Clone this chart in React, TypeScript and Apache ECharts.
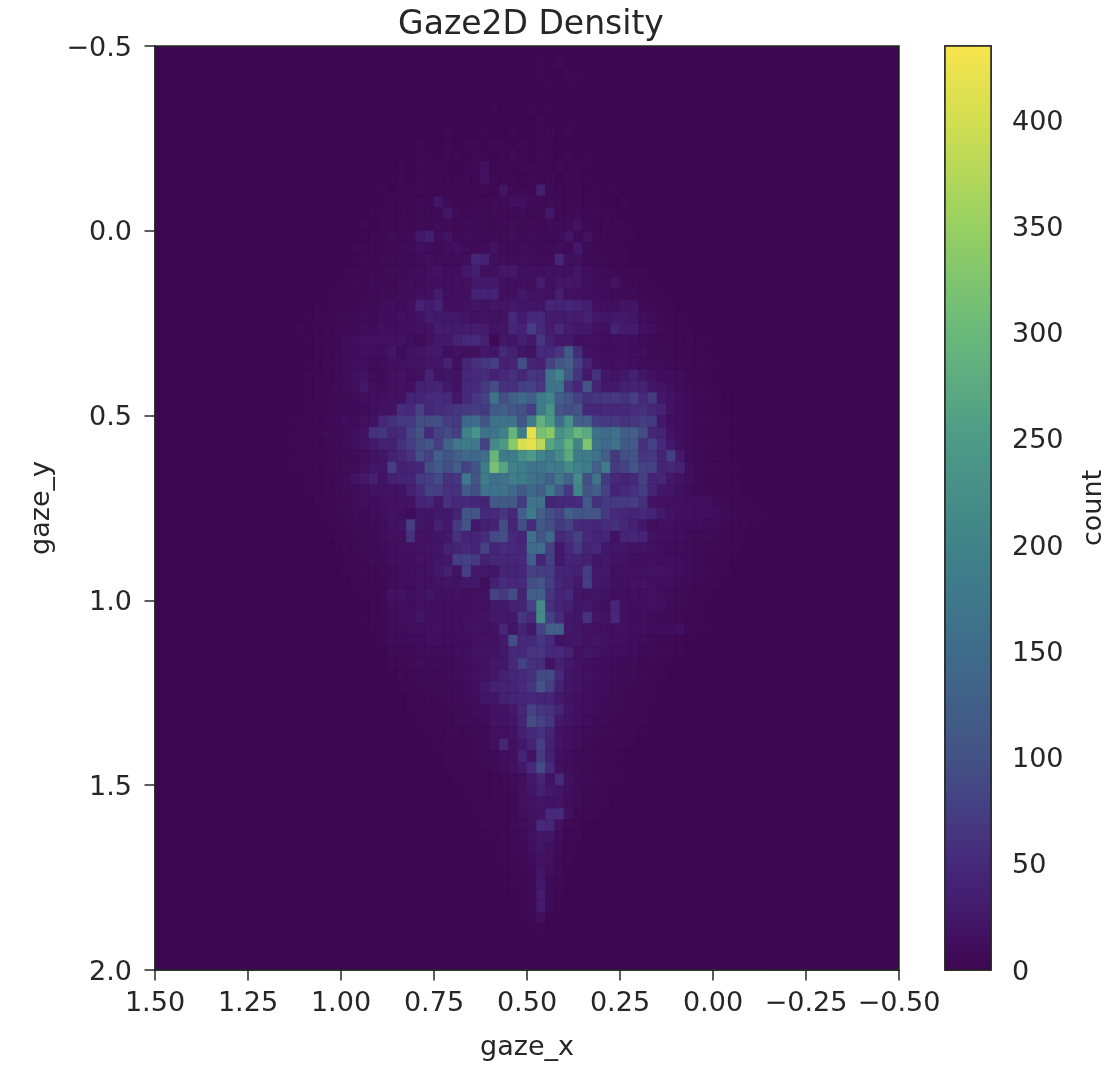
import * as echarts from 'echarts';
import React, { useEffect, useRef } from 'react';

const FONT = '"DejaVu Sans"';
const TEXT = '#262626';

const xBinWidth = 0.025;
const yBinHeight = 0.03125;
const countMax = 435;

// count value -> colour, picked from the picture's colour bar
const colorValues = [0, 25, 50, 75, 100, 150, 200, 250, 300, 350, 400, 435];
const colorHexes = ['#3e0751', '#43186a', '#46297a', '#453e82', '#435285', '#3e6c8b', '#408389', '#4d9b87', '#69b97b', '#97d062', '#d2de50', '#f8e44d'];

const colorbarTicks = [0, 50, 100, 150, 200, 250, 300, 350, 400];

// [row, first column, counts], rows from the top, columns from the left, empty bins left out
const countRows: [number, number, number[]][] = [
  [1, 41, [4, 0, 5]],
  [2, 41, [3, 0, 0, 3, 4]],
  [3, 42, [4, 0, 3]],
  [5, 36, [3, 0, 0, 0, 4, 0, 3]],
  [6, 35, [2, 0, 3, 0, 0, 0, 4, 0, 0, 3]],
  [7, 31, [3, 0, 0, 0, 3, 0, 0, 4, 0, 0, 3, 5, 0, 4]],
  [8, 28, [3, 0, 0, 4, 0, 3, 3, 0, 4, 3, 0, 5, 0, 3, 3, 0, 2]],
  [9, 26, [2, 0, 4, 3, 0, 5, 3, 0, 6, 3, 0, 4, 8, 3, 0, 6, 3, 0, 4, 0, 3]],
  [10, 26, [3, 0, 5, 3, 4, 2, 0, 3, 6, 15, 3, 4, 0, 5, 6, 3, 2, 6, 0, 3, 2]],
  [11, 25, [2, 3, 0, 5, 4, 3, 6, 3, 5, 4, 15, 3, 6, 4, 2, 6, 3, 5, 0, 4, 3, 2]],
  [12, 24, [3, 0, 4, 3, 6, 4, 3, 5, 6, 4, 5, 6, 3, 20, 6, 5, 4, 35, 6, 3, 4, 5, 2, 4, 0, 3]],
  [13, 24, [2, 4, 3, 6, 5, 4, 20, 7, 5, 6, 6, 5, 8, 7, 15, 15, 8, 6, 7, 5, 5, 6, 3, 4, 2, 0, 3]],
  [14, 23, [3, 4, 5, 6, 4, 7, 5, 8, 20, 7, 6, 8, 5, 7, 8, 6, 9, 5, 7, 25, 6, 5, 8, 4, 5, 3, 2]],
  [15, 22, [3, 2, 6, 5, 8, 6, 7, 6, 9, 8, 6, 9, 8, 7, 6, 8, 10, 7, 8, 6, 9, 8, 7, 18, 6, 4, 5, 3, 4, 2]],
  [16, 22, [2, 5, 4, 7, 6, 8, 25, 35, 9, 18, 7, 9, 8, 8, 9, 7, 10, 8, 9, 7, 8, 9, 20, 8, 15, 6, 5, 4, 3, 2]],
  [17, 21, [3, 4, 6, 5, 8, 7, 9, 15, 9, 8, 10, 15, 9, 8, 9, 18, 9, 8, 10, 9, 8, 9, 10, 8, 25, 7, 6, 4, 5, 3, 2]],
  [18, 21, [2, 5, 4, 7, 6, 9, 8, 10, 15, 9, 10, 9, 11, 45, 40, 12, 10, 9, 12, 10, 9, 11, 45, 12, 15, 8, 7, 5, 4, 3]],
  [19, 20, [3, 4, 3, 6, 5, 7, 8, 9, 10, 12, 18, 11, 12, 25, 35, 12, 15, 25, 25, 12, 15, 12, 15, 15, 12, 20, 11, 9, 8, 6, 5, 4, 3]],
  [20, 19, [2, 3, 5, 4, 7, 8, 6, 10, 12, 9, 14, 12, 11, 13, 15, 25, 25, 25, 14, 15, 13, 12, 30, 14, 20, 20, 20, 12, 10, 9, 18, 7, 6, 4, 3]],
  [21, 18, [2, 4, 3, 6, 5, 8, 9, 7, 10, 12, 15, 13, 30, 12, 14, 15, 40, 40, 40, 14, 15, 25, 18, 18, 15, 35, 14, 15, 13, 12, 10, 8, 9, 7, 5, 4, 3]],
  [22, 17, [3, 2, 4, 6, 5, 8, 7, 10, 12, 9, 14, 40, 30, 40, 14, 12, 15, 20, 16, 20, 20, 25, 20, 20, 20, 45, 40, 45, 40, 35, 14, 15, 12, 20, 20, 8, 6, 4, 3]],
  [23, 16, [2, 3, 4, 5, 7, 6, 9, 8, 12, 10, 14, 12, 18, 30, 25, 25, 25, 20, 15, 18, 16, 18, 50, 30, 50, 50, 30, 30, 30, 30, 40, 25, 20, 25, 25, 20, 12, 9, 6, 4, 3, 2]],
  [24, 15, [3, 2, 4, 5, 6, 8, 7, 10, 9, 13, 12, 15, 14, 16, 18, 30, 30, 30, 30, 30, 30, 18, 20, 45, 40, 75, 50, 30, 50, 30, 25, 25, 18, 15, 40, 30, 30, 15, 12, 8, 6, 4, 3, 2]],
  [25, 16, [2, 3, 4, 5, 10, 12, 14, 15, 15, 15, 18, 12, 9, 18, 25, 25, 40, 50, 50, 40, 6, 25, 22, 38, 25, 65, 38, 25, 25, 15, 15, 15, 12, 12, 15, 12, 9, 7, 6, 6, 5, 5, 3, 2]],
  [26, 16, [2, 3, 5, 6, 9, 12, 15, 12, 12, 20, 9, 18, 18, 25, 25, 12, 18, 15, 15, 25, 22, 50, 38, 22, 18, 50, 50, 65, 115, 55, 18, 13, 12, 12, 13, 12, 12, 9, 7, 6, 6, 5, 3, 2]],
  [27, 16, [2, 4, 5, 5, 9, 12, 12, 9, 9, 15, 15, 18, 18, 22, 22, 38, 15, 42, 60, 65, 75, 38, 42, 95, 42, 38, 80, 110, 125, 75, 42, 18, 15, 15, 15, 12, 11, 9, 9, 7, 6, 5, 5, 3, 2]],
  [28, 16, [3, 3, 5, 6, 9, 15, 18, 9, 9, 15, 18, 12, 15, 42, 18, 22, 18, 46, 50, 55, 38, 50, 60, 46, 65, 60, 165, 200, 115, 65, 25, 60, 25, 18, 25, 38, 22, 15, 9, 11, 9, 6, 5, 3, 2]],
  [29, 16, [3, 5, 4, 7, 9, 12, 25, 12, 9, 15, 18, 15, 38, 38, 42, 25, 18, 50, 50, 70, 95, 60, 60, 75, 80, 65, 165, 165, 65, 46, 105, 42, 25, 25, 38, 42, 38, 22, 18, 12, 9, 7, 5, 3, 2]],
  [30, 16, [3, 5, 6, 7, 9, 9, 12, 12, 15, 18, 18, 42, 42, 50, 55, 50, 25, 50, 65, 80, 165, 95, 125, 145, 125, 185, 205, 125, 105, 80, 60, 65, 65, 70, 60, 75, 50, 70, 25, 18, 12, 9, 6, 5, 3, 2]],
  [31, 15, [2, 4, 5, 6, 7, 9, 9, 9, 12, 18, 18, 55, 50, 80, 46, 55, 60, 65, 70, 75, 70, 115, 125, 105, 100, 75, 185, 235, 105, 95, 105, 50, 46, 50, 46, 50, 55, 60, 46, 42, 18, 12, 9, 6, 5, 3, 2]],
  [32, 14, [2, 3, 4, 5, 6, 8, 12, 9, 15, 18, 46, 60, 70, 70, 95, 95, 95, 75, 70, 145, 155, 105, 165, 165, 165, 105, 185, 285, 250, 155, 225, 125, 125, 75, 70, 70, 60, 65, 75, 70, 25, 15, 12, 9, 6, 5, 4, 3, 2]],
  [33, 14, [2, 4, 5, 6, 7, 8, 9, 12, 18, 60, 65, 46, 50, 80, 105, 50, 80, 90, 75, 195, 235, 165, 165, 195, 295, 185, 420, 315, 335, 225, 255, 295, 275, 165, 155, 160, 125, 125, 95, 46, 42, 18, 12, 9, 6, 5, 4, 3, 2]],
  [34, 14, [2, 3, 4, 5, 6, 8, 9, 12, 18, 25, 38, 38, 60, 75, 95, 105, 75, 135, 175, 185, 175, 80, 215, 245, 335, 405, 420, 380, 265, 235, 285, 205, 325, 165, 145, 165, 115, 115, 60, 80, 50, 25, 15, 9, 6, 5, 4, 3, 2]],
  [35, 14, [2, 3, 4, 5, 6, 7, 9, 9, 12, 18, 22, 38, 46, 60, 95, 80, 125, 105, 125, 145, 145, 155, 295, 185, 185, 225, 245, 205, 175, 215, 275, 185, 185, 165, 125, 70, 95, 105, 65, 70, 42, 75, 25, 9, 7, 6, 5, 3, 2]],
  [36, 14, [2, 3, 4, 5, 5, 7, 9, 9, 15, 22, 22, 75, 38, 42, 46, 95, 115, 95, 125, 80, 105, 185, 315, 265, 195, 185, 165, 165, 185, 175, 215, 195, 185, 125, 185, 70, 80, 105, 80, 80, 42, 46, 38, 12, 7, 6, 5, 4, 3]],
  [37, 15, [2, 3, 4, 5, 6, 9, 18, 25, 38, 18, 38, 42, 42, 70, 75, 90, 60, 65, 175, 105, 185, 155, 165, 190, 185, 165, 155, 125, 175, 135, 215, 95, 165, 70, 50, 42, 50, 80, 42, 46, 25, 18, 12, 7, 6, 5, 5, 3, 2]],
  [38, 15, [2, 3, 4, 5, 6, 9, 9, 12, 18, 18, 18, 18, 38, 50, 80, 75, 60, 60, 115, 95, 165, 160, 165, 145, 115, 145, 125, 175, 115, 70, 205, 105, 125, 80, 42, 50, 60, 75, 42, 25, 22, 15, 9, 7, 6, 5, 4, 3]],
  [39, 16, [2, 3, 4, 5, 8, 10, 12, 10, 13, 15, 18, 18, 42, 46, 25, 60, 50, 50, 46, 42, 115, 115, 115, 70, 165, 165, 42, 46, 50, 50, 115, 60, 70, 70, 70, 75, 60, 18, 15, 15, 15, 12, 12, 12, 8, 6, 5, 3, 2]],
  [40, 17, [2, 3, 4, 7, 9, 8, 10, 12, 18, 15, 9, 22, 22, 25, 25, 42, 105, 105, 50, 50, 65, 46, 125, 185, 125, 95, 80, 125, 105, 105, 105, 70, 50, 46, 42, 50, 42, 25, 18, 15, 15, 12, 12, 11, 7, 6, 4, 3, 2]],
  [41, 18, [2, 3, 6, 7, 8, 9, 11, 18, 18, 75, 22, 18, 38, 25, 70, 105, 25, 38, 42, 95, 42, 95, 50, 115, 95, 70, 80, 50, 50, 46, 55, 60, 46, 38, 25, 12, 15, 15, 12, 11, 11, 9, 9, 6, 5, 3, 2]],
  [42, 18, [2, 3, 5, 6, 7, 8, 10, 15, 15, 60, 18, 18, 22, 25, 60, 42, 42, 55, 90, 95, 50, 42, 160, 105, 145, 50, 60, 80, 50, 42, 42, 18, 42, 46, 42, 18, 15, 12, 12, 9, 7, 7, 6, 5, 3, 2]],
  [43, 19, [2, 5, 6, 7, 8, 9, 12, 15, 15, 18, 18, 22, 38, 42, 50, 42, 80, 42, 55, 50, 46, 150, 155, 80, 25, 50, 70, 42, 50, 25, 22, 22, 18, 18, 15, 12, 11, 9, 9, 7, 6, 5, 4, 3]],
  [44, 20, [3, 5, 6, 7, 8, 12, 15, 15, 18, 18, 22, 25, 75, 80, 70, 38, 46, 46, 46, 50, 125, 42, 80, 25, 42, 42, 38, 22, 25, 18, 18, 12, 12, 15, 12, 12, 11, 9, 7, 6, 5, 3, 2]],
  [45, 20, [3, 4, 5, 6, 7, 9, 12, 15, 15, 18, 25, 38, 18, 75, 25, 25, 22, 42, 42, 46, 80, 75, 75, 42, 42, 38, 75, 25, 25, 15, 15, 15, 15, 18, 18, 15, 12, 9, 7, 6, 4, 3]],
  [46, 21, [3, 4, 5, 6, 9, 12, 12, 15, 15, 18, 22, 18, 25, 25, 12, 38, 55, 46, 50, 95, 105, 75, 46, 38, 25, 75, 25, 22, 15, 15, 18, 18, 15, 12, 12, 9, 8, 6, 5, 3]],
  [47, 21, [2, 3, 4, 6, 18, 18, 12, 15, 22, 15, 15, 18, 15, 15, 15, 80, 70, 95, 42, 125, 125, 65, 42, 50, 22, 18, 22, 18, 12, 12, 15, 12, 15, 12, 9, 7, 6, 5, 3]],
  [48, 22, [2, 3, 5, 12, 12, 12, 15, 15, 12, 12, 15, 15, 15, 15, 25, 25, 38, 42, 80, 215, 60, 42, 38, 22, 25, 18, 15, 46, 15, 12, 15, 15, 15, 9, 7, 6, 4, 2]],
  [49, 22, [2, 3, 4, 9, 12, 12, 22, 12, 15, 12, 15, 15, 15, 18, 25, 25, 25, 65, 50, 215, 80, 50, 25, 22, 60, 22, 18, 50, 15, 12, 12, 9, 8, 7, 5, 4, 3]],
  [50, 23, [3, 4, 9, 9, 12, 12, 12, 15, 12, 15, 15, 18, 15, 18, 46, 22, 42, 25, 80, 125, 125, 25, 22, 18, 15, 15, 15, 15, 12, 12, 11, 11, 11, 16, 6, 4, 2]],
  [51, 24, [3, 9, 9, 9, 9, 12, 12, 12, 12, 12, 15, 18, 18, 25, 95, 50, 50, 65, 50, 18, 22, 25, 15, 22, 15, 15, 12, 11, 9, 7, 6, 5, 3, 2]],
  [52, 25, [7, 8, 8, 9, 9, 9, 9, 12, 12, 18, 18, 18, 25, 50, 50, 65, 65, 50, 50, 38, 15, 22, 18, 15, 12, 12, 11, 8, 7, 6, 5, 3]],
  [53, 25, [5, 6, 8, 9, 9, 9, 9, 9, 12, 15, 18, 25, 25, 50, 80, 60, 55, 18, 38, 25, 18, 15, 12, 11, 9, 8, 7, 6, 5, 3, 2]],
  [54, 26, [5, 6, 7, 8, 8, 9, 11, 12, 13, 18, 25, 38, 46, 50, 60, 90, 90, 50, 22, 18, 15, 12, 11, 9, 8, 7, 5, 4, 3]],
  [55, 26, [4, 5, 6, 7, 7, 8, 9, 11, 12, 25, 38, 42, 42, 50, 65, 105, 75, 38, 22, 17, 15, 11, 10, 8, 7, 6, 5, 3, 2]],
  [56, 27, [3, 4, 5, 6, 8, 8, 10, 11, 22, 22, 38, 42, 46, 50, 42, 42, 25, 18, 15, 12, 11, 9, 7, 6, 5, 4, 3]],
  [57, 27, [3, 4, 5, 5, 6, 7, 8, 10, 11, 18, 18, 25, 46, 80, 65, 60, 42, 22, 15, 12, 10, 8, 7, 5, 4, 3, 2]],
  [58, 28, [3, 4, 5, 5, 7, 7, 8, 9, 18, 18, 22, 42, 95, 80, 65, 25, 18, 13, 11, 8, 7, 6, 5, 4, 3]],
  [59, 29, [3, 4, 5, 6, 6, 7, 8, 15, 15, 18, 38, 50, 60, 42, 18, 15, 11, 9, 7, 6, 5, 4, 3, 2]],
  [60, 30, [3, 4, 5, 6, 6, 7, 15, 46, 15, 25, 42, 75, 38, 18, 13, 10, 7, 6, 5, 4, 3, 2]],
  [61, 31, [3, 4, 4, 5, 7, 8, 12, 15, 42, 18, 70, 38, 15, 11, 8, 7, 5, 4, 3, 2]],
  [62, 31, [3, 3, 4, 5, 5, 7, 10, 15, 25, 50, 90, 50, 15, 10, 7, 6, 5, 3, 3, 2]],
  [63, 32, [3, 3, 4, 4, 5, 6, 8, 12, 25, 42, 18, 50, 15, 8, 7, 5, 4, 3, 2]],
  [64, 32, [2, 3, 3, 4, 5, 6, 7, 15, 22, 38, 25, 22, 12, 7, 6, 4, 3, 2]],
  [65, 33, [2, 3, 3, 4, 5, 6, 15, 18, 22, 18, 18, 11, 7, 5, 3, 3]],
  [66, 34, [2, 3, 3, 4, 5, 12, 15, 18, 50, 50, 15, 6, 4, 3, 2]],
  [67, 34, [2, 3, 3, 4, 8, 11, 15, 50, 46, 13, 5, 3, 2]],
  [68, 35, [2, 3, 3, 6, 9, 15, 20, 22, 11, 4, 3]],
  [69, 36, [2, 3, 5, 8, 13, 22, 15, 8, 3, 2]],
  [70, 36, [2, 3, 4, 6, 11, 18, 13, 6, 3]],
  [71, 37, [2, 3, 5, 8, 20, 10, 5, 2]],
  [72, 37, [2, 3, 4, 7, 25, 8, 4]],
  [73, 38, [2, 4, 6, 28, 7, 3]],
  [74, 39, [2, 5, 30, 6, 2]],
  [75, 39, [2, 4, 15, 2]],
  [76, 40, [2, 3]],
];

function hexToRgb(hex: string): number[] {
  return [1, 3, 5].map((i) => parseInt(hex.slice(i, i + 2), 16));
}

function countColor(v: number): string {
  let i = 0;
  while (i < colorValues.length - 2 && v > colorValues[i + 1]) i++;
  const t = Math.min(1, (v - colorValues[i]) / (colorValues[i + 1] - colorValues[i]));
  const a = hexToRgb(colorHexes[i]);
  const b = hexToRgb(colorHexes[i + 1]);
  return `rgb(${a.map((c, k) => Math.round(c + (b[k] - c) * t)).join(',')})`;
}

const cells: number[][] = [];
countRows.forEach(([row, start, values]) => {
  values.forEach((v, k) => {
    if (v > 0) cells.push([1.5 - (start + k) * xBinWidth, -0.5 + row * yBinHeight, v]);
  });
});

const minusLabel = (digits: number) => (v: number) => v.toFixed(digits).replace('-', '\u2212');

export default function App(): React.ReactElement {
  const containerRef = useRef<HTMLDivElement>(null);

  useEffect(() => {
    if (!containerRef.current) {
      return;
    }

    const chart = echarts.init(containerRef.current, undefined, { renderer: 'svg' });

    const axisLine = { show: true, onZero: false, lineStyle: { color: TEXT, width: 1.5 } };
    const axisTick = { show: true, length: 10.5, lineStyle: { color: TEXT, width: 1.5 } };
    const nameTextStyle = { fontFamily: FONT, fontSize: 27, color: TEXT };
    const axisLabel = { fontFamily: FONT, fontSize: 27, color: TEXT };

    chart.setOption({
      animation: false,
      backgroundColor: '#ffffff',
      title: {
        text: 'Gaze2D Density',
        left: 526,
        top: 1,
        textAlign: 'center',
        textStyle: { fontFamily: FONT, fontSize: 33, fontWeight: 'normal', color: TEXT },
      },
      grid: [
        {
          left: 155,
          top: 46,
          width: 744,
          height: 924,
          show: true,
          backgroundColor: colorHexes[0],
          borderColor: TEXT,
          borderWidth: 1.5,
        },
        { left: 945, top: 46, width: 46, height: 924, show: true, borderColor: TEXT, borderWidth: 1.5 },
      ],
      xAxis: [
        {
          type: 'value',
          gridIndex: 0,
          inverse: true,
          min: -0.5,
          max: 1.5,
          interval: 0.25,
          name: 'gaze_x',
          nameLocation: 'middle',
          nameGap: 62,
          nameTextStyle,
          axisLine,
          axisTick,
          axisLabel: { ...axisLabel, margin: 18, formatter: minusLabel(2), showMinLabel: true, showMaxLabel: true },
          splitLine: { show: false },
        },
        { type: 'value', gridIndex: 1, min: 0, max: 1, show: false },
      ],
      yAxis: [
        {
          type: 'value',
          gridIndex: 0,
          inverse: true,
          min: -0.5,
          max: 2,
          interval: 0.5,
          name: 'gaze_y',
          nameLocation: 'middle',
          nameGap: 102,
          nameTextStyle,
          axisLine,
          axisTick,
          axisLabel: { ...axisLabel, margin: 23, formatter: minusLabel(1), showMinLabel: true, showMaxLabel: true },
          splitLine: { show: false },
        },
        {
          type: 'value',
          gridIndex: 1,
          position: 'right',
          min: 0,
          max: countMax,
          name: 'count',
          nameLocation: 'middle',
          nameGap: 87,
          nameTextStyle,
          axisLine: { show: false },
          axisTick: { ...axisTick, customValues: colorbarTicks },
          axisLabel: { ...axisLabel, margin: 21, customValues: colorbarTicks },
          splitLine: { show: false },
        },
      ],
      series: [
        {
          type: 'custom',
          xAxisIndex: 0,
          yAxisIndex: 0,
          silent: true,
          data: cells,
          encode: { x: 0, y: 1 },
          renderItem: (_params: unknown, api: any) => {
            const x = api.value(0);
            const y = api.value(1);
            const a = api.coord([x, y]);
            const b = api.coord([x - xBinWidth, y + yBinHeight]);
            const fill = countColor(api.value(2));
            return {
              type: 'rect',
              shape: { x: a[0], y: a[1], width: b[0] - a[0], height: b[1] - a[1] },
              style: { fill, stroke: fill, lineWidth: 0.4 },
            };
          },
        },
        {
          type: 'custom',
          xAxisIndex: 1,
          yAxisIndex: 1,
          silent: true,
          data: [[0, 0, countMax]],
          encode: { y: 2 },
          renderItem: (_params: unknown, api: any) => {
            const a = api.coord([0, countMax]);
            const b = api.coord([1, 0]);
            return {
              type: 'rect',
              shape: { x: a[0], y: a[1], width: b[0] - a[0], height: b[1] - a[1] },
              style: {
                fill: new echarts.graphic.LinearGradient(
                  0,
                  1,
                  0,
                  0,
                  colorValues.map((v, i) => ({ offset: v / countMax, color: colorHexes[i] })),
                ),
                stroke: TEXT,
                lineWidth: 1.5,
              },
            };
          },
        },
      ],
    });

    return () => {
      chart.dispose();
    };
  }, []);

  return <div ref={containerRef} style={{ position: 'fixed', left: 0, top: 0, width: 1112, height: 1090, filter: 'blur(0.5px)' }} />;
}
